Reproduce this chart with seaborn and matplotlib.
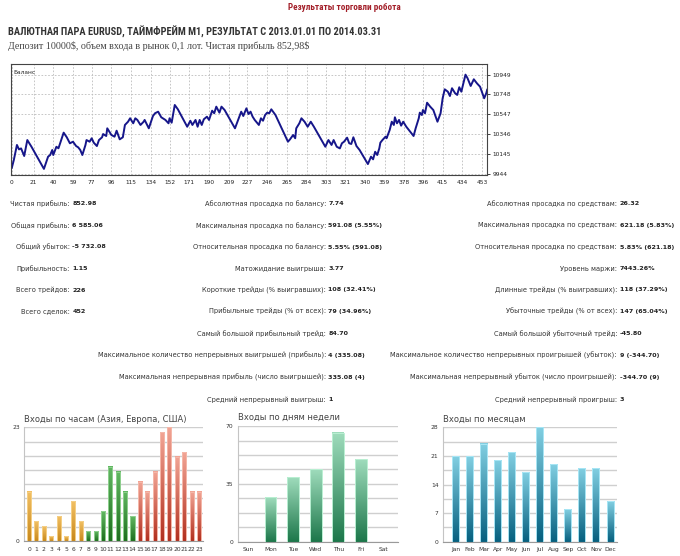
import numpy as np
import matplotlib
matplotlib.use("Agg")
import matplotlib.pyplot as plt
import seaborn as sns
from matplotlib.colors import LinearSegmentedColormap

# --- баланс (номер сделки, баланс) ---
balance_points = [
    (0, 10000), (2, 10082), (5, 10235), (7, 10190), (9, 10200), (12, 10123), (15, 10285), (19, 10217),
    (31, 9992), (35, 10116), (37, 10133), (39, 10184), (40, 10133), (43, 10217), (45, 10201), (50, 10360),
    (53, 10313), (56, 10252), (59, 10268), (62, 10224), (64, 10211), (66, 10184), (68, 10133), (71, 10235),
    (72, 10285), (75, 10268), (77, 10303), (79, 10258), (82, 10224), (84, 10285), (87, 10313), (88, 10346),
    (91, 10326), (92, 10404), (96, 10336), (99, 10319), (101, 10380), (104, 10292), (107, 10313), (109, 10438),
    (112, 10471), (114, 10506), (117, 10455), (119, 10506), (121, 10489), (124, 10438), (127, 10471), (128, 10489),
    (132, 10404), (136, 10529), (138, 10557), (141, 10573), (144, 10516), (148, 10489), (151, 10455), (152, 10506),
    (154, 10461), (157, 10641), (160, 10597), (169, 10420), (172, 10481), (174, 10438), (177, 10489), (179, 10420),
    (181, 10489), (183, 10438), (185, 10496), (188, 10522), (190, 10489), (193, 10583), (195, 10557), (197, 10624),
    (200, 10563), (202, 10624), (205, 10590), (215, 10404), (218, 10489), (221, 10573), (223, 10529), (226, 10607),
    (228, 10549), (230, 10573), (232, 10522), (234, 10489), (238, 10438), (240, 10506), (242, 10481), (244, 10539),
    (246, 10563), (248, 10557), (250, 10597), (254, 10539), (266, 10268), (268, 10292), (271, 10336), (273, 10303),
    (274, 10404), (277, 10455), (279, 10506), (282, 10471), (285, 10420), (288, 10471), (291, 10420), (302, 10217),
    (305, 10285), (308, 10235), (310, 10285), (313, 10217), (316, 10200), (318, 10252), (320, 10268), (323, 10309),
    (325, 10252), (327, 10245), (329, 10313), (332, 10224), (335, 10184), (343, 10041), (346, 10116), (348, 10089),
    (350, 10166), (352, 10133), (354, 10201), (355, 10258), (357, 10285), (360, 10319), (361, 10303), (364, 10387),
    (366, 10471), (368, 10438), (369, 10516), (371, 10455), (373, 10489), (375, 10431), (377, 10471), (380, 10420),
    (387, 10326), (389, 10404), (392, 10506), (393, 10563), (395, 10539), (396, 10590), (398, 10557), (400, 10664),
    (403, 10624), (406, 10590), (410, 10471), (413, 10557), (415, 10709), (417, 10800), (420, 10776), (422, 10732),
    (424, 10811), (427, 10760), (429, 10743), (431, 10821), (433, 10776), (437, 10949), (439, 10912), (442, 10834),
    (445, 10902), (448, 10861), (451, 10827), (455, 10709), (457, 10760), (458, 10800),
]
trade_no = [p[0] for p in balance_points]
balance = [p[1] for p in balance_points]
balance_xticks = [0, 21, 40, 59, 77, 96, 115, 134, 152, 171, 190, 209, 227, 246, 265,
                  284, 303, 321, 340, 359, 378, 396, 415, 434, 453]
balance_yticks = [9944, 10145, 10346, 10547, 10748, 10949]

# --- статистика ---
col1_labels = ["Чистая прибыль:", "Общая прибыль:", "Общий убыток:", "Прибыльность:",
               "Всего трейдов:", "Всего сделок:"]
col1_values = ["852.98", "6 585.06", "-5 732.08", "1.15", "226", "452"]
col2_labels = ["Абсолютная просадка по балансу:", "Максимальная просадка по балансу:",
               "Относительная просадка по балансу:", "Матожидание выигрыша:",
               "Короткие трейды (% выигравших):", "Прибыльные трейды (% от всех):",
               "Самый большой прибыльный трейд:",
               "Максимальное количество непрерывных выигрышей (прибыль):",
               "Максимальная непрерывная прибыль (число выигрышей):",
               "Средний непрерывный выигрыш:"]
col2_values = ["7.74", "591.08 (5.55%)", "5.55% (591.08)", "3.77", "108 (32.41%)",
               "79 (34.96%)", "84.70", "4 (335.08)", "335.08 (4)", "1"]
col3_labels = ["Абсолютная просадка по средствам:", "Максимальная просадка по средствам:",
               "Относительная просадка по средствам:", "Уровень маржи:",
               "Длинные трейды (% выигравших):", "Убыточные трейды (% от всех):",
               "Самый большой убыточный трейд:",
               "Максимальное количество непрерывных проигрышей (убыток):",
               "Максимальная непрерывный убыток (число проигрышей):",
               "Средний непрерывный проигрыш:"]
col3_values = ["26.32", "621.18 (5.83%)", "5.83% (621.18)", "7443.26%", "118 (37.29%)",
               "147 (65.04%)", "-45.80", "9 (-344.70)", "-344.70 (9)", "3"]

# --- входы ---
hours = [str(h) for h in range(24)]
hour_entries = [10, 4, 3, 1, 5, 1, 8, 4, 2, 2, 6, 15, 14, 10, 5, 12, 10, 14, 22, 23, 17, 18, 10, 10]
hour_session = ["asia"] * 8 + ["europe"] * 7 + ["usa"] * 9
weekdays = ["Sun", "Mon", "Tue", "Wed", "Thu", "Fri", "Sat"]
weekday_entries = [0, 27, 39, 44, 66, 50, 0]
months = ["Jan", "Feb", "Mar", "Apr", "May", "Jun", "Jul", "Aug", "Sep", "Oct", "Nov", "Dec"]
month_entries = [21, 21, 24, 20, 22, 17, 28, 19, 8, 18, 18, 10]

# цвета градиента (низ, верх, рамка)
session_colors = {
    "asia": ("#c8891c", "#f2c064", "#f5cf86"),
    "europe": ("#1d6e1d", "#62b862", "#8fd08f"),
    "usa": ("#b2301f", "#f2a595", "#f5b8aa"),
}
weekday_color = ("#1c774a", "#9fdcbc", "#b9efd2")
month_color = ("#06607f", "#82cfe2", "#a9e6f5")

sns.set_theme(style="white")
plt.rcParams["font.family"] = ["DejaVu Sans"]

W, H = 680, 556
fig = plt.figure(figsize=(6.8, 5.56), dpi=100)
fig.patch.set_facecolor("white")
renderer = fig.canvas.get_renderer()


def fx(x):
    return x / W


def fy(y):
    return 1 - y / H


def px_axes(x0, y0, x1, y1):
    return fig.add_axes([fx(x0), fy(y1), (x1 - x0) / W, (y1 - y0) / H])


def fit_width(t, width_px):
    w = t.get_window_extent(renderer=renderer).width
    t.set_fontsize(t.get_fontsize() * width_px / w)


narrow = ["Liberation Sans Narrow", "Roboto Condensed", "Liberation Sans", "DejaVu Sans"]

# заголовки
t = fig.text(fx(344), fy(8), "Результаты торговли робота", ha="center", va="center",
             fontsize=7.2, color="#a3202a", fontweight="bold", family=narrow)
fit_width(t, 112)
t = fig.text(fx(8), fy(32), "ВАЛЮТНАЯ ПАРА EURUSD, ТАЙМФРЕЙМ M1, РЕЗУЛЬТАТ С 2013.01.01 ПО 2014.03.31",
             ha="left", va="center", fontsize=8.2, color="#333333", fontweight="bold", family=narrow)
fit_width(t, 372)
t = fig.text(fx(8), fy(46), "Депозит 10000$, объем входа в рынок 0,1 лот. Чистая прибыль 852,98$",
             ha="left", va="center", fontsize=7.6, color="#444444", parse_math=False,
             family=["Liberation Serif", "DejaVu Serif"])
fit_width(t, 302)

# --- график баланса ---
ax = px_axes(10.7, 64.3, 487.3, 175)
sns.lineplot(x=trade_no, y=balance, ax=ax, color="#16168a", linewidth=1.4)
ax.set_xlim(-1, 458)
ax.set_ylim(9930, 11054)
ax.set_xticks(balance_xticks)
ax.set_xticklabels([str(v) for v in balance_xticks])
ax.set_yticks(balance_yticks)
ax.yaxis.tick_right()
ax.tick_params(axis="both", labelsize=4.2, length=2, width=0.6, colors="#222222", pad=1.5)
ax.grid(True, color="#bdbdbd", linestyle=(0, (2, 2)), linewidth=0.6)
for s in ax.spines.values():
    s.set_color("#444444")
    s.set_linewidth(0.8)
ax.set_xlabel("")
ax.set_ylabel("")
ax.text(0.006, 0.93, "Баланс", transform=ax.transAxes, fontsize=4.2, color="#222222", va="center")

# --- таблица статистики ---
row_y = [204, 225.5, 247, 268.5, 290, 311.5, 333.5, 355.5, 377.3, 399.3]
lab_kw = dict(ha="right", va="center", fontsize=4.75, color="#333333")
val_kw = dict(ha="left", va="center", fontsize=4.6, color="#222222", fontweight="bold")
for labels, values, xr in [(col1_labels, col1_values, 70),
                           (col2_labels, col2_values, 326),
                           (col3_labels, col3_values, 617)]:
    for i, (lab, val) in enumerate(zip(labels, values)):
        fig.text(fx(xr), fy(row_y[i]), lab, **lab_kw)
        fig.text(fx(xr + 2.5), fy(row_y[i]), val, **val_kw)


# --- столбчатые диаграммы ---
def gradient_bars(ax, colors):
    for patch, (dark, light, edge) in zip(list(ax.patches), colors):
        x0, w, h = patch.get_x(), patch.get_width(), patch.get_height()
        if h <= 0:
            patch.set_visible(False)
            continue
        cmap = LinearSegmentedColormap.from_list("g", [dark, light])
        grad = np.linspace(0, 1, 128).reshape(-1, 1)
        ax.imshow(grad, extent=[x0, x0 + w, 0, h], origin="lower", aspect="auto",
                  cmap=cmap, zorder=2, interpolation="bilinear")
        patch.set_facecolor("none")
        patch.set_edgecolor(edge)
        patch.set_linewidth(0.7)
        patch.set_zorder(3)


def style_bar_axes(ax, title, ymax, ylabels, xlim, minor_sep):
    ax.set_xlim(*xlim)
    ax.set_ylim(0, ymax * 1.003)
    ax.set_yticks(ylabels)
    ax.set_yticklabels([str(v) for v in ylabels])
    ax.set_yticks(np.linspace(0, ymax, 9), minor=True)
    ax.grid(True, axis="y", which="both", color="#cfcfcf", linewidth=1.0, zorder=0)
    ax.set_axisbelow(True)
    ax.tick_params(axis="y", which="major", labelsize=4.3, length=0, colors="#333333", pad=3)
    ax.tick_params(axis="x", which="major", labelsize=4.3, length=0, colors="#333333", pad=4)
    ax.tick_params(axis="y", which="minor", length=0)
    if minor_sep:
        n = len(ax.get_xticks())
        ax.set_xticks([i + 0.5 for i in range(n - 1)], minor=True)
        ax.tick_params(axis="x", which="minor", length=2, width=0.5, color="#888888")
    for s in ["top", "right"]:
        ax.spines[s].set_visible(False)
    ax.spines["left"].set_color("#c4c4c4")
    ax.spines["bottom"].set_color("#9a9a9a")
    ax.spines["left"].set_linewidth(0.8)
    ax.spines["bottom"].set_linewidth(0.8)
    ax.set_xlabel("")
    ax.set_ylabel("")
    ax.text(0.0, 1.03, title, transform=ax.transAxes, fontsize=6, color="#444444",
            ha="left", va="bottom")


ax1 = px_axes(24, 427, 203.3, 541)
sns.barplot(x=hours, y=hour_entries, order=hours, ax=ax1, width=0.55, color="#d9a032")
gradient_bars(ax1, [session_colors[s] for s in hour_session])
style_bar_axes(ax1, "Входы по часам (Азия, Европа, США)", 23, [0, 23], (-0.68, 23.58), False)

ax2 = px_axes(237.7, 425.7, 398.3, 541.7)
sns.barplot(x=weekdays, y=weekday_entries, order=weekdays, ax=ax2, width=0.52, color="#3a9a6a")
gradient_bars(ax2, [weekday_color] * len(weekdays))
style_bar_axes(ax2, "Входы по дням недели", 70, [0, 35, 70], (-0.45, 6.65), True)

ax3 = px_axes(442.7, 427, 617.3, 541.7)
sns.barplot(x=months, y=month_entries, order=months, ax=ax3, width=0.5, color="#2a90aa")
gradient_bars(ax3, [month_color] * len(months))
style_bar_axes(ax3, "Входы по месяцам", 28, [0, 7, 14, 21, 28], (-0.93, 11.52), True)

fig.savefig("out.png", dpi=100, facecolor="white")
